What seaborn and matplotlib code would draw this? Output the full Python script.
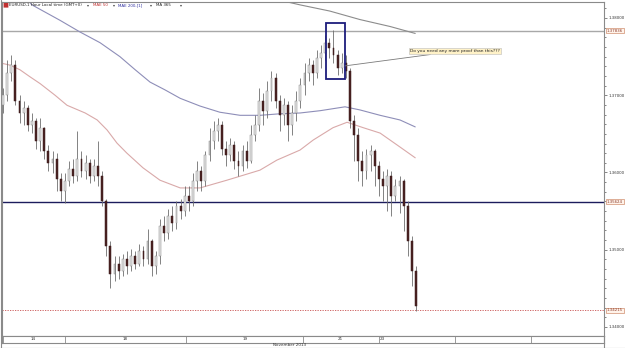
import matplotlib
matplotlib.use("Agg")
import matplotlib.pyplot as plt
import matplotlib.transforms as mtransforms
from matplotlib.patches import Rectangle
from matplotlib.lines import Line2D
from matplotlib.ticker import FixedLocator, MultipleLocator
import seaborn as sns
import pandas as pd

sns.set_theme(style="white")
plt.rcParams['font.family'] = ['DejaVu Sans']

# ---------------- data (EURUSD, 1 hour bars) ----------------
opens = [1.3687, 1.3700, 1.3729, 1.3739, 1.3693, 1.3677, 1.3683, 1.3661, 1.3667, 1.3641,
         1.3657, 1.3628, 1.3612, 1.3618, 1.3592, 1.3576, 1.3589, 1.3605, 1.3596, 1.3618,
         1.3602, 1.3612, 1.3596, 1.3609, 1.3596, 1.3563, 1.3505, 1.3469, 1.3482, 1.3472,
         1.3488, 1.3479, 1.3492, 1.3482, 1.3498, 1.3488, 1.3511, 1.3479, 1.3492, 1.3531,
         1.3521, 1.3544, 1.3534, 1.3557, 1.3550, 1.3570, 1.3563, 1.3589, 1.3602, 1.3589,
         1.3622, 1.3641, 1.3654, 1.3661, 1.3631, 1.3622, 1.3635, 1.3615, 1.3609, 1.3628,
         1.3615, 1.3648, 1.3661, 1.3693, 1.3680, 1.3706, 1.3722, 1.3693, 1.3674, 1.3687,
         1.3661, 1.3677, 1.3693, 1.3713, 1.3729, 1.3739, 1.3729, 1.3748, 1.3755, 1.3768,
         1.3761, 1.3752, 1.3735, 1.3742, 1.3732, 1.3667, 1.3648, 1.3615, 1.3602, 1.3622,
         1.3628, 1.3609, 1.3592, 1.3583, 1.3596, 1.3570, 1.3583, 1.3589, 1.3557, 1.3511,
         1.3472]
highs = [1.3709, 1.3745, 1.3752, 1.3745, 1.3700, 1.3693, 1.3687, 1.3677, 1.3670, 1.3670,
         1.3659, 1.3635, 1.3628, 1.3625, 1.3599, 1.3599, 1.3615, 1.3618, 1.3654, 1.3628,
         1.3622, 1.3618, 1.3618, 1.3641, 1.3602, 1.3566, 1.3511, 1.3492, 1.3492, 1.3495,
         1.3498, 1.3501, 1.3498, 1.3507, 1.3505, 1.3527, 1.3514, 1.3498, 1.3540, 1.3544,
         1.3553, 1.3557, 1.3563, 1.3566, 1.3583, 1.3583, 1.3599, 1.3615, 1.3609, 1.3628,
         1.3657, 1.3667, 1.3670, 1.3667, 1.3641, 1.3644, 1.3641, 1.3628, 1.3635, 1.3641,
         1.3661, 1.3674, 1.3709, 1.3703, 1.3719, 1.3732, 1.3729, 1.3700, 1.3696, 1.3693,
         1.3687, 1.3706, 1.3722, 1.3742, 1.3748, 1.3745, 1.3758, 1.3765, 1.3778, 1.3774,
         1.3784, 1.3758, 1.3755, 1.3752, 1.3735, 1.3674, 1.3657, 1.3628, 1.3631, 1.3635,
         1.3631, 1.3615, 1.3602, 1.3605, 1.3602, 1.3592, 1.3596, 1.3592, 1.3563, 1.3518,
         1.3479]
lows = [1.3677, 1.3693, 1.3719, 1.3687, 1.3664, 1.3661, 1.3654, 1.3651, 1.3631, 1.3628,
        1.3618, 1.3602, 1.3599, 1.3576, 1.3563, 1.3560, 1.3583, 1.3586, 1.3589, 1.3594,
        1.3592, 1.3586, 1.3589, 1.3583, 1.3557, 1.3492, 1.3450, 1.3459, 1.3462, 1.3466,
        1.3469, 1.3472, 1.3475, 1.3479, 1.3479, 1.3482, 1.3466, 1.3469, 1.3482, 1.3511,
        1.3514, 1.3524, 1.3527, 1.3540, 1.3544, 1.3550, 1.3557, 1.3576, 1.3576, 1.3583,
        1.3615, 1.3631, 1.3641, 1.3622, 1.3609, 1.3615, 1.3605, 1.3596, 1.3602, 1.3606,
        1.3612, 1.3641, 1.3654, 1.3661, 1.3670, 1.3693, 1.3683, 1.3654, 1.3661, 1.3641,
        1.3648, 1.3667, 1.3683, 1.3700, 1.3719, 1.3713, 1.3722, 1.3735, 1.3745, 1.3748,
        1.3742, 1.3726, 1.3729, 1.3722, 1.3657, 1.3615, 1.3589, 1.3583, 1.3592, 1.3602,
        1.3583, 1.3570, 1.3563, 1.3550, 1.3544, 1.3563, 1.3547, 1.3524, 1.3492, 1.3453,
        1.3421]
closes = [1.3700, 1.3729, 1.3739, 1.3693, 1.3677, 1.3683, 1.3661, 1.3667, 1.3641, 1.3657,
          1.3628, 1.3612, 1.3618, 1.3592, 1.3576, 1.3589, 1.3605, 1.3596, 1.3618, 1.3602,
          1.3612, 1.3596, 1.3609, 1.3596, 1.3563, 1.3505, 1.3469, 1.3482, 1.3472, 1.3488,
          1.3479, 1.3492, 1.3482, 1.3498, 1.3488, 1.3511, 1.3479, 1.3492, 1.3531, 1.3521,
          1.3544, 1.3534, 1.3557, 1.3550, 1.3570, 1.3563, 1.3589, 1.3602, 1.3589, 1.3622,
          1.3641, 1.3654, 1.3661, 1.3631, 1.3622, 1.3635, 1.3615, 1.3609, 1.3628, 1.3615,
          1.3648, 1.3661, 1.3693, 1.3680, 1.3706, 1.3722, 1.3693, 1.3674, 1.3687, 1.3661,
          1.3677, 1.3693, 1.3713, 1.3729, 1.3739, 1.3729, 1.3748, 1.3755, 1.3768, 1.3761,
          1.3752, 1.3735, 1.3742, 1.3732, 1.3667, 1.3648, 1.3615, 1.3602, 1.3622, 1.3628,
          1.3609, 1.3592, 1.3583, 1.3596, 1.3570, 1.3583, 1.3589, 1.3557, 1.3511, 1.3472,
          1.3427]

# moving averages (sampled along the bar index)
mae50_idx = [0, 1.7, 4.1, 6.5, 9.0, 12.6, 15.5, 19.9, 22.8, 25.2, 27.6, 30.0, 33.9, 38.0,
             42.9, 47.7, 54.2, 62.2, 66.3, 71.9, 75.1, 79.9, 83.3, 87.2, 91.3, 96.1, 99.8]
mae50_val = [1.3741, 1.3739, 1.3733, 1.3724, 1.3715, 1.3700, 1.3687, 1.3677, 1.3668, 1.3655,
             1.3638, 1.3625, 1.3606, 1.3590, 1.3580, 1.3580, 1.3590, 1.3603, 1.3616, 1.3629,
             1.3642, 1.3658, 1.3665, 1.3658, 1.3651, 1.3633, 1.3619]
mae200_idx = [6.0, 7.0, 13.8, 18.6, 23.5, 25.9, 28.3, 32.0, 35.6, 39.2, 42.9, 47.7, 52.5,
              57.4, 62.2, 67.1, 71.9, 76.8, 82.8, 86.4, 91.3, 96.1, 99.8]
mae200_val = [1.3823, 1.3817, 1.3797, 1.3782, 1.3768, 1.3759, 1.3750, 1.3733, 1.3717, 1.3707,
              1.3696, 1.3686, 1.3678, 1.3674, 1.3674, 1.3676, 1.3677, 1.3680, 1.3685, 1.3681,
              1.3674, 1.3668, 1.3659]
ma365_idx = [67.0, 71.9, 79.1, 86.4, 93.7, 99.8]
ma365_val = [1.3823, 1.3817, 1.3809, 1.3798, 1.3789, 1.3780]

level_top = 1.37836
level_mid = 1.35624
level_low = 1.34215
y_ticks = [1.34, 1.35, 1.36, 1.37, 1.38]
y_tick_labels = ["1.34000", "1.35000", "1.36000", "1.37000", "1.38000"]
date_labels = ["14", "18", "19", "21", "23"]
month_label = "November 2013"
annotation = "Do you need any more proof than this???"

# ---------------- figure ----------------
W, H = 625, 348
fig = plt.figure(figsize=(W / 100, H / 100), dpi=100)
fig.patch.set_facecolor("white")
ax = fig.add_axes([2 / W, 1 - 336 / H, 602 / W, 334 / H])
ax.set_facecolor("white")

df = pd.DataFrame({"idx": range(len(closes)), "open": opens, "high": highs,
                   "low": lows, "close": closes})
df["bull"] = df["close"] >= df["open"]
df["bottom"] = df[["open", "close"]].min(axis=1)
df["height"] = (df["close"] - df["open"]).abs().clip(lower=0.00006)

# wicks
ax.vlines(df["idx"], df["low"], df["high"], color="#6e6e6e", lw=0.6, zorder=3)
# bodies
bull = df[df["bull"]]
bear = df[~df["bull"]]
ax.bar(bull["idx"], bull["height"], bottom=bull["bottom"], width=0.45,
       color="#e4e4e4", edgecolor="#8a8a8a", linewidth=0.35, zorder=4)
ax.bar(bear["idx"], bear["height"], bottom=bear["bottom"], width=0.45,
       color="#4a2222", edgecolor="#3a1a1a", linewidth=0.35, zorder=4)

# moving averages via seaborn
sns.lineplot(x=mae50_idx, y=mae50_val, ax=ax, color="#d9a9a9", lw=0.8,
             estimator=None, sort=False, zorder=2)
sns.lineplot(x=mae200_idx, y=mae200_val, ax=ax, color="#8e8eb8", lw=0.8,
             estimator=None, sort=False, zorder=2)
sns.lineplot(x=ma365_idx, y=ma365_val, ax=ax, color="#8c8c8c", lw=0.8,
             estimator=None, sort=False, zorder=2)

# horizontal levels
ax.axhline(level_top, color="#a8a8a8", lw=1.0, zorder=1)
ax.axhline(level_mid, color="#1c1c5c", lw=1.0, zorder=1)
ax.axhline(level_low, color="#c85050", lw=0.6, ls=(0, (1.5, 1.5)), zorder=1)

# box around the top
ax.add_patch(Rectangle((78.2, 1.3721), 4.6, 1.37935 - 1.3721, fill=False,
                       edgecolor="#1c1c7c", lw=1.3, zorder=6))
# annotation
ax.annotate(annotation, xy=(82.8, 1.3738), xytext=(98.6, 1.3757),
            fontsize=3.2, color="#222222", va="center", ha="left",
            bbox=dict(boxstyle="square,pad=0.25", fc="#fff2c8", ec="#bbbbbb", lw=0.4),
            arrowprops=dict(arrowstyle="-", color="#7a7a7a", lw=0.6,
                            shrinkA=0, shrinkB=0), zorder=7)

ax.set_xlim(-0.24, 145.5)
ax.set_ylim(1.33883, 1.38207)
ax.set_xticks([])
ax.yaxis.tick_right()
ax.yaxis.set_major_locator(FixedLocator(y_ticks))
ax.set_yticklabels(y_tick_labels)
ax.yaxis.set_minor_locator(MultipleLocator(0.00125))
ax.tick_params(axis="y", which="major", labelsize=2.8, length=2.0, width=0.5,
               color="#555555", labelcolor="#333333", pad=1.0, right=True)
ax.tick_params(axis="y", which="minor", length=1.5, width=0.5, color="#555555", right=True)
for side in ["left", "top", "right", "bottom"]:
    ax.spines[side].set_color("#8a8a8a")
    ax.spines[side].set_linewidth(0.8)
ax.set_xlabel("")
ax.set_ylabel("")

# right-axis level boxes
trans = mtransforms.blended_transform_factory(ax.transAxes, ax.transData)
for val in [level_top, level_mid, level_low]:
    ax.text(1.005, val, f"{val:.5f}", transform=trans, fontsize=2.8, color="#8a3a2a",
            va="center", ha="left", clip_on=False,
            bbox=dict(boxstyle="square,pad=0.2", fc="#fff3ea", ec="#d09070", lw=0.5))

# header
fig.text(2 / W, 1 - 5 / H, "■", fontsize=4.5, color="#c03030", va="center", ha="left")
hdr = [("EURUSD,1 Hour Local time (GMT+0)", "#222222", 9), ("▾", "#444444", 87),
       ("MAE 50", "#c03030", 93), ("▾", "#444444", 113),
       ("MAE 200,[1]", "#3030a0", 118), ("▾", "#444444", 150),
       ("MA 365", "#222222", 156), ("▾", "#444444", 180)]
for txt, col, xp in hdr:
    fig.text(xp / W, 1 - 5 / H, txt, fontsize=2.9, color=col, va="center", ha="left")

# date strip
sax = fig.add_axes([2 / W, 1 - 343 / H, 602 / W, 7 / H])
sax.set_xlim(2, 604)
sax.set_ylim(0, 1)
sax.set_xticks([])
sax.set_yticks([])
for side in ["left", "top", "right", "bottom"]:
    sax.spines[side].set_color("#8a8a8a")
    sax.spines[side].set_linewidth(0.8)
for xp in [3, 65, 186, 303, 379, 455, 531]:
    sax.axvline(xp, color="#8a8a8a", lw=0.6)
for lab, xp in zip(date_labels, [33, 125, 245, 340, 382]):
    sax.text(xp, 0.5, lab, fontsize=3.0, color="#333333", va="center", ha="center")
fig.text(290 / W, 1 - 345.5 / H, month_label, fontsize=3.0, color="#333333",
         va="center", ha="center")
fig.add_artist(Line2D([0, 1], [1 - 347.5 / H, 1 - 347.5 / H], color="#8a8a8a", lw=0.8))
fig.add_artist(Line2D([604 / W, 604 / W], [1 - 348 / H, 1 - 336 / H], color="#8a8a8a", lw=0.8))
fig.add_artist(Line2D([0.5 / W, 0.5 / W], [0, 1], color="#8a8a8a", lw=0.8))

fig.savefig("out.png", dpi=100, facecolor="white")
